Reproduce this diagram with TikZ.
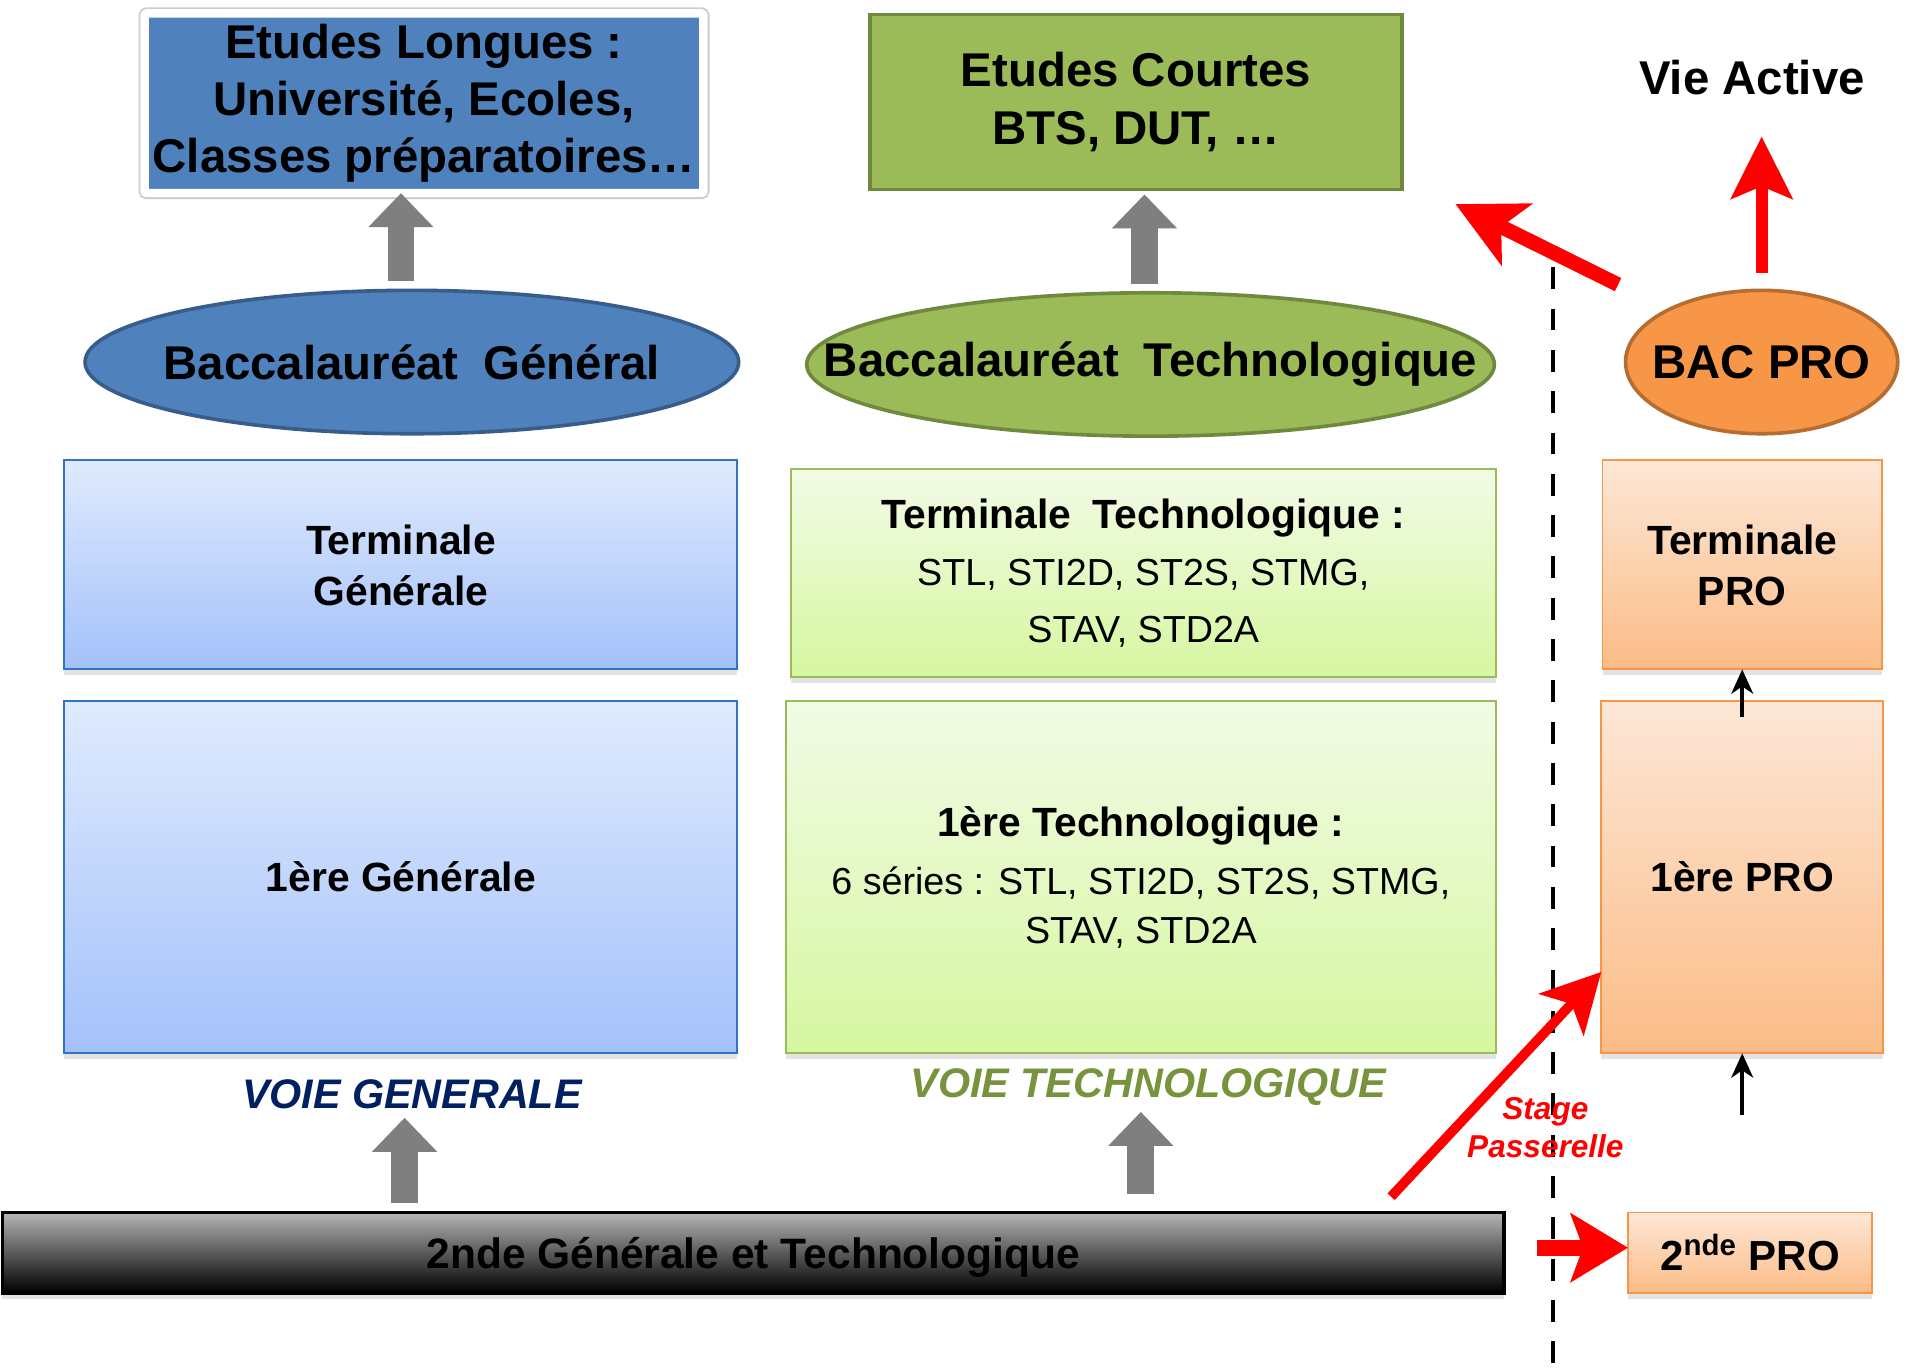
\documentclass[tikz,border=0pt]{standalone}
\usepackage{fontspec}
\setmainfont{Liberation Sans}
\usetikzlibrary{shapes.geometric,arrows.meta,calc,shadows}
\definecolor{bluef}{HTML}{4F81BD}
\definecolor{blued}{HTML}{385D8A}
\definecolor{greenf}{HTML}{9BBB59}
\definecolor{greend}{HTML}{71893F}
\definecolor{orangef}{HTML}{F79646}
\definecolor{oranged}{HTML}{B66D31}
\definecolor{bluetop}{HTML}{E0EAFD}
\definecolor{bluebot}{HTML}{A3C1FA}
\definecolor{blueline}{HTML}{2F75C5}
\definecolor{greentop}{HTML}{F2FBE6}
\definecolor{greenbot}{HTML}{D6F7A0}
\definecolor{greenline}{HTML}{9BBB59}
\definecolor{orangetop}{HTML}{FDE7D7}
\definecolor{orangebot}{HTML}{FBBC86}
\definecolor{navy}{HTML}{002060}
\definecolor{olive}{HTML}{77933C}
\definecolor{arrgray}{HTML}{7F7F7F}
\definecolor{redarr}{HTML}{FF0000}
\begin{document}
\begin{tikzpicture}[x=0.5pt,y=-0.5pt,
  every node/.style={inner sep=0pt, outer sep=0pt},
  boxshadow/.style={drop shadow={shadow xshift=0pt, shadow yshift=-2.5pt, opacity=0.22}},
  framerim/.style={preaction={draw=black!20, line width=5pt}},
  bigfont/.style={font=\bfseries\fontsize{19.5}{23.5}\selectfont},
  midfont/.style={font=\bfseries\fontsize{16.8}{21}\selectfont},
  gradbox/.style={rectangle, line width=0.8pt, boxshadow, align=center},
  bluebox/.style={gradbox, draw=blueline, top color=bluetop, bottom color=bluebot},
  greenbox/.style={gradbox, draw=greenline, top color=greentop, bottom color=greenbot},
  orangebox/.style={gradbox, draw=orangef, top color=orangetop, bottom color=orangebot},
  bacell/.style={ellipse, line width=1.5pt, bigfont},
  grayarr/.style={draw=arrgray, line width=11pt, -{Triangle[length=14pt,width=26pt]}},
  redarrow/.style={draw=redarr, fill=redarr},
  blackarr/.style={draw=black, line width=1.5pt, -{Stealth[length=10pt,width=9pt,inset=3pt]}},
  voie/.style={font=\bfseries\itshape\fontsize{17}{20}\selectfont}
]
\fill[white] (0,0) rectangle (1568,1128);
\useasboundingbox (0,0) rectangle (1568,1128);

% top destinations
\node[rectangle, draw=white, line width=3.5pt, rounded corners=1pt, fill=bluef, framerim,
      drop shadow={shadow xshift=0pt, shadow yshift=-2pt, opacity=0.25},
      minimum width=230pt, minimum height=74pt, align=center, bigfont]
      (el) at (349,85) {Etudes Longues :\\Université, Ecoles,\\Classes préparatoires…};
\node[rectangle, draw=greend, line width=1.5pt, fill=greenf,
      minimum width=219pt, minimum height=72pt, align=center, bigfont]
      (ec) at (935,84) {Etudes Courtes\\BTS, DUT, …};
\node[bigfont] (va) at (1442,64) {Vie Active};

% baccalaureats
\node[bacell, fill=bluef, draw=blued, minimum width=269pt, minimum height=59pt]
      (bg) at (339,298) {\makebox[0pt]{Baccalauréat\hspace{0.25em} Général}};
\node[bacell, fill=greenf, draw=greend, minimum width=283pt, minimum height=59pt]
      (bt) at (947,300) {\makebox[0pt]{Baccalauréat\hspace{0.25em} Technologique}};
\node[bacell, fill=orangef, draw=oranged, minimum width=112pt, minimum height=59pt]
      (bp) at (1450,298) {\makebox[0pt]{BAC PRO}};

% terminales
\node[bluebox, midfont, minimum width=277pt, minimum height=86pt]
      (tg) at (330,465) {Terminale\\Générale};
\node[greenbox, font=\fontsize{15.5}{23.5}\selectfont, minimum width=290pt, minimum height=85.5pt]
      (tt) at (941,471.5) {{\bfseries\fontsize{16.8}{23.5}\selectfont Terminale\hspace{0.25em} Technologique :}\\STL, STI2D, ST2S, STMG,\\STAV, STD2A};
\node[orangebox, midfont, minimum width=115pt, minimum height=86pt]
      (tp) at (1434,465) {Terminale\\PRO};

% premieres
\node[bluebox, midfont, minimum width=277pt, minimum height=145pt]
      (pg) at (330,722) {1ère Générale};
\node[greenbox, font=\fontsize{15.5}{20}\selectfont, minimum width=292pt, minimum height=145pt]
      (pt) at (939,722) {{\bfseries\fontsize{16.8}{20}\selectfont 1ère Technologique :}\\[4pt]6 séries : STL, STI2D, ST2S, STMG,\\STAV, STD2A};
\node[orangebox, midfont, minimum width=116pt, minimum height=145pt]
      (pp) at (1434,722) {1ère PRO};

% voies
\node[voie, text=navy] (vg) at (339,901) {VOIE GENERALE};
\node[voie, text=olive] (vt) at (945,895) {VOIE TECHNOLOGIQUE};

% secondes
\node[rectangle, draw=black, line width=1.5pt, top color=gray!58, bottom color=black, boxshadow,
      minimum width=618pt, minimum height=33pt, text depth=0pt, font=\bfseries\fontsize{17.5}{21}\selectfont]
      (sg) at (620,1031) {2nde Générale et Technologique};
\node[orangebox, font=\bfseries\fontsize{17.3}{21}\selectfont, minimum width=100.5pt, minimum height=33pt]
      (sp) at (1440.5,1031) {2\textsuperscript{nde} PRO};

% dashed separator
\coordinate (dtop) at (1278,220);
\coordinate (dbot) at (1278,1128);
\draw[line width=1.5pt, dash pattern=on 9pt off 8pt] (dtop) -- (dbot);

% grey arrows
\draw[grayarr] ([xshift=-4.5pt,yshift=4pt]bg.north) -- ([xshift=-4.5pt]bg.north |- el.south);
\draw[grayarr] ([xshift=-2.5pt,yshift=3.5pt]bt.north) -- ([xshift=-2.5pt,yshift=-2pt]bt.north |- ec.south);
\draw[grayarr] ($(sg.north -| vg.south)+(-6,-8)$) -- ($(vg.south)+(-6,7)$);
\draw[grayarr] ($(sg.north -| vt.south)+(-6,-15)$) -- ($(vt.south)+(-6,5)$);

% black arrows
\draw[blackarr] ([yshift=-6.5pt]pp.north) -- (tp.south);
\draw[blackarr] ([yshift=40pt]sp.north -| pp.south) -- (pp.south);

% red arrows
\draw[redarrow, line width=6pt, -{Stealth[length=28pt,width=28pt,inset=7pt]}]
  ($(bp.north west)+(-39,-22)$) -- ($(ec.south east)+(44,12)$);
\draw[redarrow, line width=5pt, -{Stealth[length=25.5pt,width=25pt,inset=5pt]}]
  ([yshift=7pt]bp.north) -- ([yshift=-17pt]va.south -| bp.north);
\draw[redarrow, line width=4pt, -{Stealth[length=24pt,width=25pt,inset=6pt]}]
  ($(sg.north east)+(-93,-13)$) -- ($(pp.west)+(0,78)$);
\draw[redarrow, line width=6.5pt, -{Stealth[length=23.5pt,width=28pt,inset=5pt]}]
  ($(sp.west)+(-75,-4)$) -- ($(sp.west)+(0,-4)$);

\node[align=center, text=redarr, font=\bfseries\itshape\fontsize{13}{15.5}\selectfont]
  (stg) at (1272,928) {Stage\\Passerelle};
\end{tikzpicture}
\end{document}
